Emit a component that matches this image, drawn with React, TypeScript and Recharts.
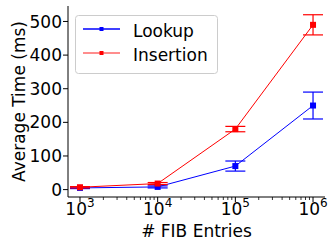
import React from "react";
import { LineChart, Line, XAxis, YAxis, ErrorBar, Label } from "recharts";

const entries = [1e3, 1e4, 1e5, 1e6];
const lookup = [5, 8, 70, 250];
const lookupErr = [2, 3, 15, 40];
const insertion = [7, 18, 180, 490];
const insertionErr = [2, 3, 8, 30];
const yTicks = [0, 100, 200, 300, 400, 500];
const majorTicks = [1e3, 1e4, 1e5, 1e6];
const minorMult = [2, 3, 4, 5, 6, 7, 8, 9];
const minorTicks = [1e3, 1e4, 1e5].flatMap((d) => minorMult.map((m) => m * d));
const xTicks = [...majorTicks, ...minorTicks].sort((a, b) => a - b);

const data = entries.map((x, i) => ({
  x,
  lookup: lookup[i],
  lookupErr: lookupErr[i],
  insertion: insertion[i],
  insertionErr: insertionErr[i],
}));

const FONT = "DejaVu Sans";
const BLUE = "#0000ff";
const RED = "#ff0000";

const SquareDot = (props: any) => {
  const { cx, cy, fill } = props;
  if (cx == null || cy == null) return null;
  return <rect x={cx - 3} y={cy - 3} width={6} height={6} fill={fill} />;
};

const XTick = (props: any) => {
  const { x, y, payload } = props;
  const v = payload.value;
  const exp = Math.round(Math.log10(v));
  const major = Math.abs(Math.log10(v) - exp) < 1e-9;
  return (
    <g>
      <line x1={x} x2={x} y1={y} y2={y + (major ? 5 : 3)} stroke="#000" strokeWidth={major ? 1 : 0.8} />
      {major && (
        <text x={x} y={y + 18} textAnchor="middle" fontFamily={FONT} fontSize={17} fill="#000">
          <tspan>10</tspan>
          <tspan fontSize={12} dy={-8}>{exp}</tspan>
        </text>
      )}
    </g>
  );
};

const YLabel = (props: any) => {
  const vb = props.viewBox || {};
  const x = (vb.x ?? 0) + 24.5;
  const y = (vb.y ?? 0) + (vb.height ?? 0) / 2;
  return (
    <text x={x} y={y} transform={`rotate(-90 ${x} ${y})`} textAnchor="middle" fontFamily={FONT} fontSize={17} fill="#000">
      Average Time (ms)
    </text>
  );
};

const XLabel = (props: any) => {
  const vb = props.viewBox || {};
  const x = (vb.x ?? 0) + (vb.width ?? 0) / 2;
  const y = (vb.y ?? 0) + 40;
  return (
    <text x={x} y={y} textAnchor="middle" fontFamily={FONT} fontSize={17} fill="#000">
      # FIB Entries
    </text>
  );
};

const LegendBox = () => (
  <svg width={143} height={59} style={{ display: "block" }}>
    <rect x={0.5} y={0.5} width={142} height={58} rx={3} fill="#fff" fillOpacity={0.8} stroke="#cccccc" />
    <line x1={8} x2={45} y1={14} y2={14} stroke={BLUE} strokeWidth={1.5} />
    <rect x={24.5} y={12} width={4} height={4} fill={BLUE} />
    <text x={58} y={22} fontFamily={FONT} fontSize={17} fill="#000">Lookup</text>
    <line x1={8} x2={45} y1={38} y2={38} stroke={RED} strokeOpacity={0.6} strokeWidth={1.5} />
    <rect x={24.5} y={36} width={4} height={4} fill={RED} />
    <text x={58} y={46} fontFamily={FONT} fontSize={17} fill="#000">Insertion</text>
  </svg>
);

export default function App() {
  return (
    <div style={{ position: "absolute", left: 0, top: 0, width: 328, height: 245, background: "#fff" }}>
      <LineChart width={328} height={245} data={data} margin={{ top: 6, right: 3, left: 0, bottom: 0 }}>
        <XAxis
          dataKey="x"
          type="number"
          scale="log"
          domain={[701, 1426000]}
          allowDataOverflow
          ticks={xTicks}
          interval={0}
          tick={<XTick />}
          tickLine={false}
          tickSize={0}
          tickMargin={0}
          height={48}
          axisLine={{ stroke: "#000" }}
        >
          <Label content={<XLabel />} />
        </XAxis>
        <XAxis
          xAxisId="top"
          orientation="top"
          dataKey="x"
          type="number"
          scale="log"
          domain={[701, 1426000]}
          allowDataOverflow
          tick={false}
          tickLine={false}
          height={0}
          axisLine={{ stroke: "#000" }}
        />
        <YAxis
          type="number"
          domain={[-22, 546]}
          allowDataOverflow
          ticks={yTicks}
          interval={0}
          width={68}
          tickSize={5}
          tickMargin={1}
          tickLine={{ stroke: "#000" }}
          axisLine={{ stroke: "#000" }}
          tick={{ fontFamily: FONT, fontSize: 17, fill: "#000" }}
        >
          <Label content={<YLabel />} />
        </YAxis>
        <YAxis
          yAxisId="right"
          orientation="right"
          type="number"
          domain={[-22, 546]}
          tick={false}
          tickLine={false}
          width={0}
          axisLine={{ stroke: "#000" }}
        />
        <Line
          dataKey="lookup"
          stroke={BLUE}
          strokeWidth={1}
          fill={BLUE}
          dot={<SquareDot fill={BLUE} />}
          activeDot={false}
          isAnimationActive={false}
        >
          <ErrorBar dataKey="lookupErr" width={10} stroke={BLUE} strokeWidth={1.2} direction="y" />
        </Line>
        <Line
          dataKey="insertion"
          stroke={RED}
          strokeWidth={1}
          fill={RED}
          dot={<SquareDot fill={RED} />}
          activeDot={false}
          isAnimationActive={false}
        >
          <ErrorBar dataKey="insertionErr" width={10} stroke={RED} strokeWidth={1.2} direction="y" />
        </Line>
      </LineChart>
      <div style={{ position: "absolute", left: 75, top: 15 }}>
        <LegendBox />
      </div>
    </div>
  );
}
